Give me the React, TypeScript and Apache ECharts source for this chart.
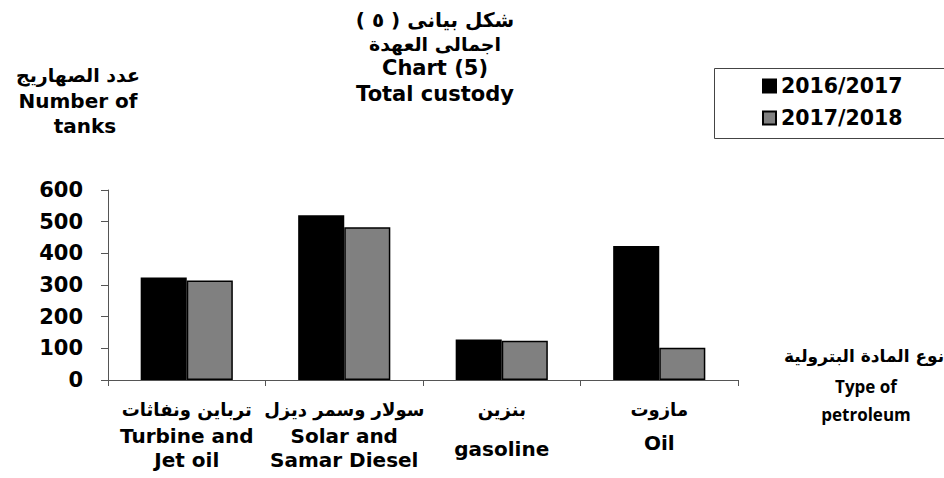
import React, { useEffect, useRef } from "react";
import * as echarts from "echarts";

const categoriesAr = ["ترباين ونفاثات", "سولار وسمر ديزل", "بنزين", "مازوت"];
const categoriesEn = ["Turbine and\nJet oil", "Solar and\nSamar Diesel", "gasoline", "Oil"];
const categoryKeys = ["turbine", "solar", "gasoline", "oil"];
const seriesNames = ["2016/2017", "2017/2018"];
const values2016 = [324, 520, 128, 423];
const values2018 = [314, 482, 124, 102];
const yTicks = { min: 0, max: 600, interval: 100 };

const FONT = "'DejaVu Sans', 'Liberation Sans', Arial, sans-serif";

export default function App() {
  const ref = useRef<HTMLDivElement>(null);
  useEffect(() => {
    document.body.style.margin = "0";
    if (!ref.current) return;
    const chart = echarts.init(ref.current, null, { renderer: "svg" });
    const enStyleKey = (i: number) => (i === 2 ? "g" : i === 3 ? "o" : "en");
    chart.setOption({
      animation: false,
      backgroundColor: "#fff",
      textStyle: { fontFamily: FONT, color: "#000" },
      grid: { left: 108, right: 206, top: 190, bottom: 98, containLabel: false },
      legend: {
        left: 757,
        top: 70,
        orient: "vertical",
        itemWidth: 13,
        itemHeight: 13,
        itemGap: 10,
        textStyle: { fontFamily: FONT, fontSize: 20.5, fontWeight: "bold", color: "#000", lineHeight: 22 },
        data: seriesNames.map((n) => ({ name: n, icon: "rect" })),
      },
      xAxis: {
        type: "category",
        data: categoryKeys,
        axisLine: { show: true, lineStyle: { color: "#555", width: 1 } },
        axisTick: { show: true, length: 6, lineStyle: { color: "#555" } },
        axisLabel: {
          margin: 14,
          interval: 0,
          formatter: (_v: string, i: number) =>
            `{ar|${categoriesAr[i]}}\n{${enStyleKey(i)}|${categoriesEn[i]}}`,
          rich: {
            ar: { fontFamily: FONT, fontSize: 18, fontWeight: "bold", color: "#000", lineHeight: 30, align: "center" },
            en: { fontFamily: FONT, fontSize: 20, fontWeight: "bold", color: "#000", lineHeight: 24, align: "center" },
            g: { fontFamily: FONT, fontSize: 20, fontWeight: "bold", color: "#000", lineHeight: 50, align: "center" },
            o: { fontFamily: FONT, fontSize: 20, fontWeight: "bold", color: "#000", lineHeight: 38, align: "center" },
          },
        },
      },
      yAxis: {
        type: "value",
        min: yTicks.min,
        max: yTicks.max,
        interval: yTicks.interval,
        splitLine: { show: false },
        axisLine: { show: true, lineStyle: { color: "#555", width: 1 } },
        axisTick: { show: true, length: 7, lineStyle: { color: "#555" } },
        axisLabel: { margin: 25, fontFamily: FONT, fontSize: 21, fontWeight: "bold", color: "#000" },
      },
      series: [
        {
          name: seriesNames[0],
          type: "bar",
          data: values2016,
          barGap: "0%",
          barCategoryGap: "41.5%",
          itemStyle: { color: "#000000", borderColor: "#000", borderWidth: 1.5 },
        },
        {
          name: seriesNames[1],
          type: "bar",
          data: values2018,
          barGap: "0%",
          barCategoryGap: "41.5%",
          itemStyle: { color: "#808080", borderColor: "#000", borderWidth: 1.5 },
        },
      ],
      graphic: [
        {
          type: "rect",
          z: -1,
          shape: { x: 714.5, y: 68.5, width: 250, height: 70 },
          style: { fill: "none", stroke: "#444", lineWidth: 1 },
        },
        { type: "text", x: 435, y: 20, style: { text: "شكل بيانى ( ٥ )", font: `bold 20px ${FONT}`, fill: "#000", align: "center", verticalAlign: "middle" } },
        { type: "text", x: 435, y: 44, style: { text: "اجمالى العهدة", font: `bold 19px ${FONT}`, fill: "#000", align: "center", verticalAlign: "middle" } },
        { type: "text", x: 435, y: 68, style: { text: "Chart (5)", font: `bold 21px ${FONT}`, fill: "#000", align: "center", verticalAlign: "middle" } },
        { type: "text", x: 435, y: 94, style: { text: "Total custody", font: `bold 21px ${FONT}`, fill: "#000", align: "center", verticalAlign: "middle" } },
        { type: "text", x: 78, y: 75, style: { text: "عدد الصهاريج", font: `bold 19px ${FONT}`, fill: "#000", align: "center", verticalAlign: "middle" } },
        { type: "text", x: 78, y: 101, style: { text: "Number of", font: `bold 20px ${FONT}`, fill: "#000", align: "center", verticalAlign: "middle" } },
        { type: "text", x: 85, y: 126, style: { text: "tanks", font: `bold 20px ${FONT}`, fill: "#000", align: "center", verticalAlign: "middle" } },
        { type: "text", x: 864, y: 356, style: { text: "نوع المادة البترولية", font: `bold 17px ${FONT}`, fill: "#000", align: "center", verticalAlign: "middle" } },
        { type: "text", x: 866, y: 386, style: { text: "Type of", font: `bold 17px 'Open Sans', ${FONT}`, fill: "#000", align: "center", verticalAlign: "middle" } },
        { type: "text", x: 866, y: 414, style: { text: "petroleum", font: `bold 17px 'Open Sans', ${FONT}`, fill: "#000", align: "center", verticalAlign: "middle" } },
      ],
    });
    return () => chart.dispose();
  }, []);
  return <div ref={ref} style={{ width: 944, height: 478 }} />;
}
